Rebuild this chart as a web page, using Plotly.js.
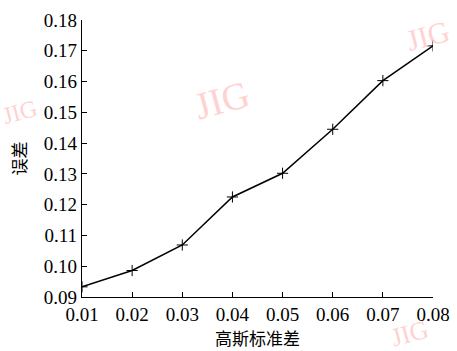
<!DOCTYPE html>
<html><head><meta charset="utf-8">
<script src="https://cdn.plot.ly/plotly-3.0.1.min.js"></script>
<style>
html,body{margin:0;padding:0;background:#fff;overflow:hidden}
#wrap{position:relative;width:457px;height:351px;overflow:hidden}
#c{width:457px;height:351px}
.wm{position:absolute;transform:translate(-50%,-50%) rotate(-15deg);font-family:'Liberation Serif','Times New Roman',serif;color:rgba(255,190,190,0.7);white-space:nowrap;pointer-events:none;line-height:1}
</style>
</head><body><div id="wrap"><div id="c"></div></div>
<script>
const sigma = [0.01, 0.02, 0.03, 0.04, 0.05, 0.06, 0.07, 0.08];
const err = [0.0933, 0.0986, 0.1069, 0.1225, 0.1302, 0.1445, 0.1603, 0.1716];
const xTicks = [0.01, 0.02, 0.03, 0.04, 0.05, 0.06, 0.07, 0.08];
const yTicks = [0.09, 0.10, 0.11, 0.12, 0.13, 0.14, 0.15, 0.16, 0.17, 0.18];
const watermark = 'JIG';
const font = "'Liberation Serif','Times New Roman',serif";
const cjk = "'Noto Sans CJK SC','Liberation Serif',serif";
Plotly.newPlot('c', [{
  x: sigma, y: err, mode: 'lines+markers', type: 'scatter',
  line: {color:'#000', width:1.5},
  marker: {symbol:'cross-thin', size:8, color:'#000', line:{color:'#000', width:1}}
}], {
  width:457, height:351, margin:{l:82, r:24, t:20, b:54},
  paper_bgcolor:'#fff', plot_bgcolor:'#fff', showlegend:false,
  xaxis:{range:[0.01,0.08], tickvals:xTicks, ticktext:xTicks.map(v=>v.toFixed(2)),
    ticks:'inside', ticklen:5, tickcolor:'#000', showline:true, linecolor:'#000', linewidth:1.2,
    showgrid:false, zeroline:false, tickfont:{family:font, size:19, color:'#000'},
    title:{text:'高斯标准差', font:{family:cjk, size:17, color:'#000'}, standoff:4}},
  yaxis:{range:[0.09,0.18], tickvals:yTicks, ticktext:yTicks.map(v=>v.toFixed(2)),
    ticks:'inside', ticklen:5, tickcolor:'#000', showline:true, linecolor:'#000', linewidth:1.2,
    showgrid:false, zeroline:false, tickfont:{family:font, size:19, color:'#000'},
    title:{text:'误差', font:{family:cjk, size:17, color:'#000'}, standoff:12}}
}, {staticPlot:true, displayModeBar:false}).then(() => {
  const wrap = document.getElementById('wrap');
  [[222,100,38],[428,36,30],[410,334,26],[20,112,24]].forEach(([l,t,s]) => {
    const d = document.createElement('div');
    d.className = 'wm'; d.textContent = watermark;
    d.style.left = l + 'px'; d.style.top = t + 'px'; d.style.fontSize = s + 'px';
    wrap.appendChild(d);
  });
});
</script></body></html>
